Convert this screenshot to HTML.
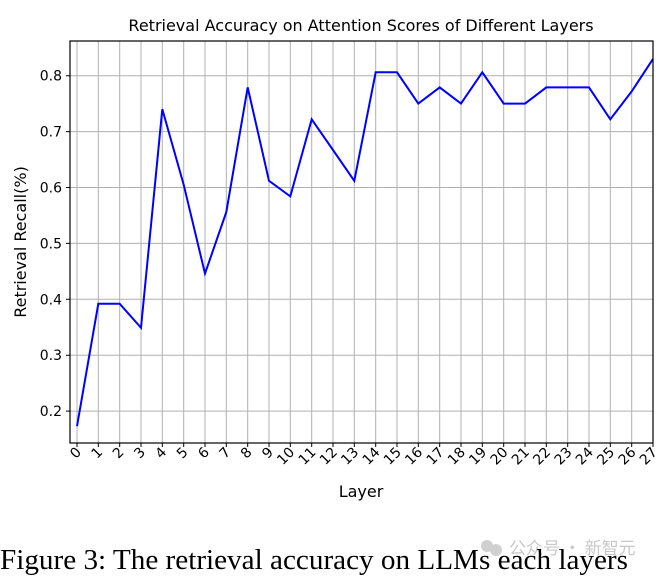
<!DOCTYPE html>
<html><head><meta charset="utf-8"><style>body{margin:0;background:#fff}</style></head><body>
<svg width="660" height="576" xmlns="http://www.w3.org/2000/svg" font-family="DejaVu Sans, sans-serif">
<rect width="660" height="576" fill="#fff"/>
<g stroke="#b0b0b0" stroke-width="1">
<path d="M77,41V443M98.3,41V443M119.7,41V443M141,41V443M162.3,41V443M183.7,41V443M205,41V443M226.3,41V443M247.7,41V443M269,41V443M290.3,41V443M311.7,41V443M333,41V443M354.3,41V443M375.7,41V443M397,41V443M418.3,41V443M439.7,41V443M461,41V443M482.3,41V443M503.7,41V443M525,41V443M546.3,41V443M567.7,41V443M589,41V443M610.3,41V443M631.7,41V443"/>
<path d="M70,75.7H653M70,131.6H653M70,187.5H653M70,243.4H653M70,299.3H653M70,355.2H653M70,411.1H653"/>
</g>
<polyline fill="none" stroke="#0000ff" stroke-width="2" points="77,426.2 98.3,303.8 119.7,303.8 141,327.8 162.3,109.2 183.7,184.7 205,273.6 226.3,212.1 247.7,87.4 269,180.8 290.3,196.4 311.7,119.3 333,150 354.3,180.8 375.7,72.3 397,72.3 418.3,103.6 439.7,87.4 461,103.6 482.3,72.3 503.7,103.6 525,103.6 546.3,87.4 567.7,87.4 589,87.4 610.3,119.3 631.7,91.4 653,58.9"/>
<rect x="70" y="41" width="583" height="402" fill="none" stroke="#000" stroke-width="1.2"/>
<g stroke="#000" stroke-width="1">
<path d="M66,75.7H70M66,131.6H70M66,187.5H70M66,243.4H70M66,299.3H70M66,355.2H70M66,411.1H70"/>
<path d="M77,443v4M98.3,443v4M119.7,443v4M141,443v4M162.3,443v4M183.7,443v4M205,443v4M226.3,443v4M247.7,443v4M269,443v4M290.3,443v4M311.7,443v4M333,443v4M354.3,443v4M375.7,443v4M397,443v4M418.3,443v4M439.7,443v4M461,443v4M482.3,443v4M503.7,443v4M525,443v4M546.3,443v4M567.7,443v4M589,443v4M610.3,443v4M631.7,443v4M653,443v4"/>
</g>
<g font-size="14" text-anchor="end" fill="#000">
<text x="62" y="80.7">0.8</text><text x="62" y="136.6">0.7</text><text x="62" y="192.5">0.6</text><text x="62" y="248.4">0.5</text><text x="62" y="304.3">0.4</text><text x="62" y="360.2">0.3</text><text x="62" y="416.1">0.2</text>
</g>
<g font-size="14" text-anchor="end" fill="#000">
<text transform="translate(82,453) rotate(-45)">0</text><text transform="translate(103.3,453) rotate(-45)">1</text><text transform="translate(124.7,453) rotate(-45)">2</text><text transform="translate(146,453) rotate(-45)">3</text><text transform="translate(167.3,453) rotate(-45)">4</text><text transform="translate(188.7,453) rotate(-45)">5</text><text transform="translate(210,453) rotate(-45)">6</text><text transform="translate(231.3,453) rotate(-45)">7</text><text transform="translate(252.7,453) rotate(-45)">8</text><text transform="translate(274,453) rotate(-45)">9</text><text transform="translate(295.3,453) rotate(-45)">10</text><text transform="translate(316.7,453) rotate(-45)">11</text><text transform="translate(338,453) rotate(-45)">12</text><text transform="translate(359.3,453) rotate(-45)">13</text><text transform="translate(380.7,453) rotate(-45)">14</text><text transform="translate(402,453) rotate(-45)">15</text><text transform="translate(423.3,453) rotate(-45)">16</text><text transform="translate(444.7,453) rotate(-45)">17</text><text transform="translate(466,453) rotate(-45)">18</text><text transform="translate(487.3,453) rotate(-45)">19</text><text transform="translate(508.7,453) rotate(-45)">20</text><text transform="translate(530,453) rotate(-45)">21</text><text transform="translate(551.3,453) rotate(-45)">22</text><text transform="translate(572.7,453) rotate(-45)">23</text><text transform="translate(594,453) rotate(-45)">24</text><text transform="translate(615.3,453) rotate(-45)">25</text><text transform="translate(636.7,453) rotate(-45)">26</text><text transform="translate(658,453) rotate(-45)">27</text>
</g>
<text x="361" y="31" font-size="16" text-anchor="middle">Retrieval Accuracy on Attention Scores of Different Layers</text>
<text x="361" y="497" font-size="16" text-anchor="middle">Layer</text>
<text transform="translate(26,242) rotate(-90)" font-size="16" text-anchor="middle">Retrieval Recall(%)</text>
<circle cx="487" cy="546" r="6" fill="#d0d0d0"/><circle cx="496" cy="550" r="6" fill="#d0d0d0"/>
<text x="509" y="554" font-size="17" fill="#c8c8c8" font-family="Noto Sans CJK SC, sans-serif">公众号 · 新智元</text>
<text x="0" y="569" font-size="29" font-family="Liberation Serif, serif" textLength="628" lengthAdjust="spacingAndGlyphs">Figure 3: The retrieval accuracy on LLMs each layers</text>
</svg>
</body></html>
